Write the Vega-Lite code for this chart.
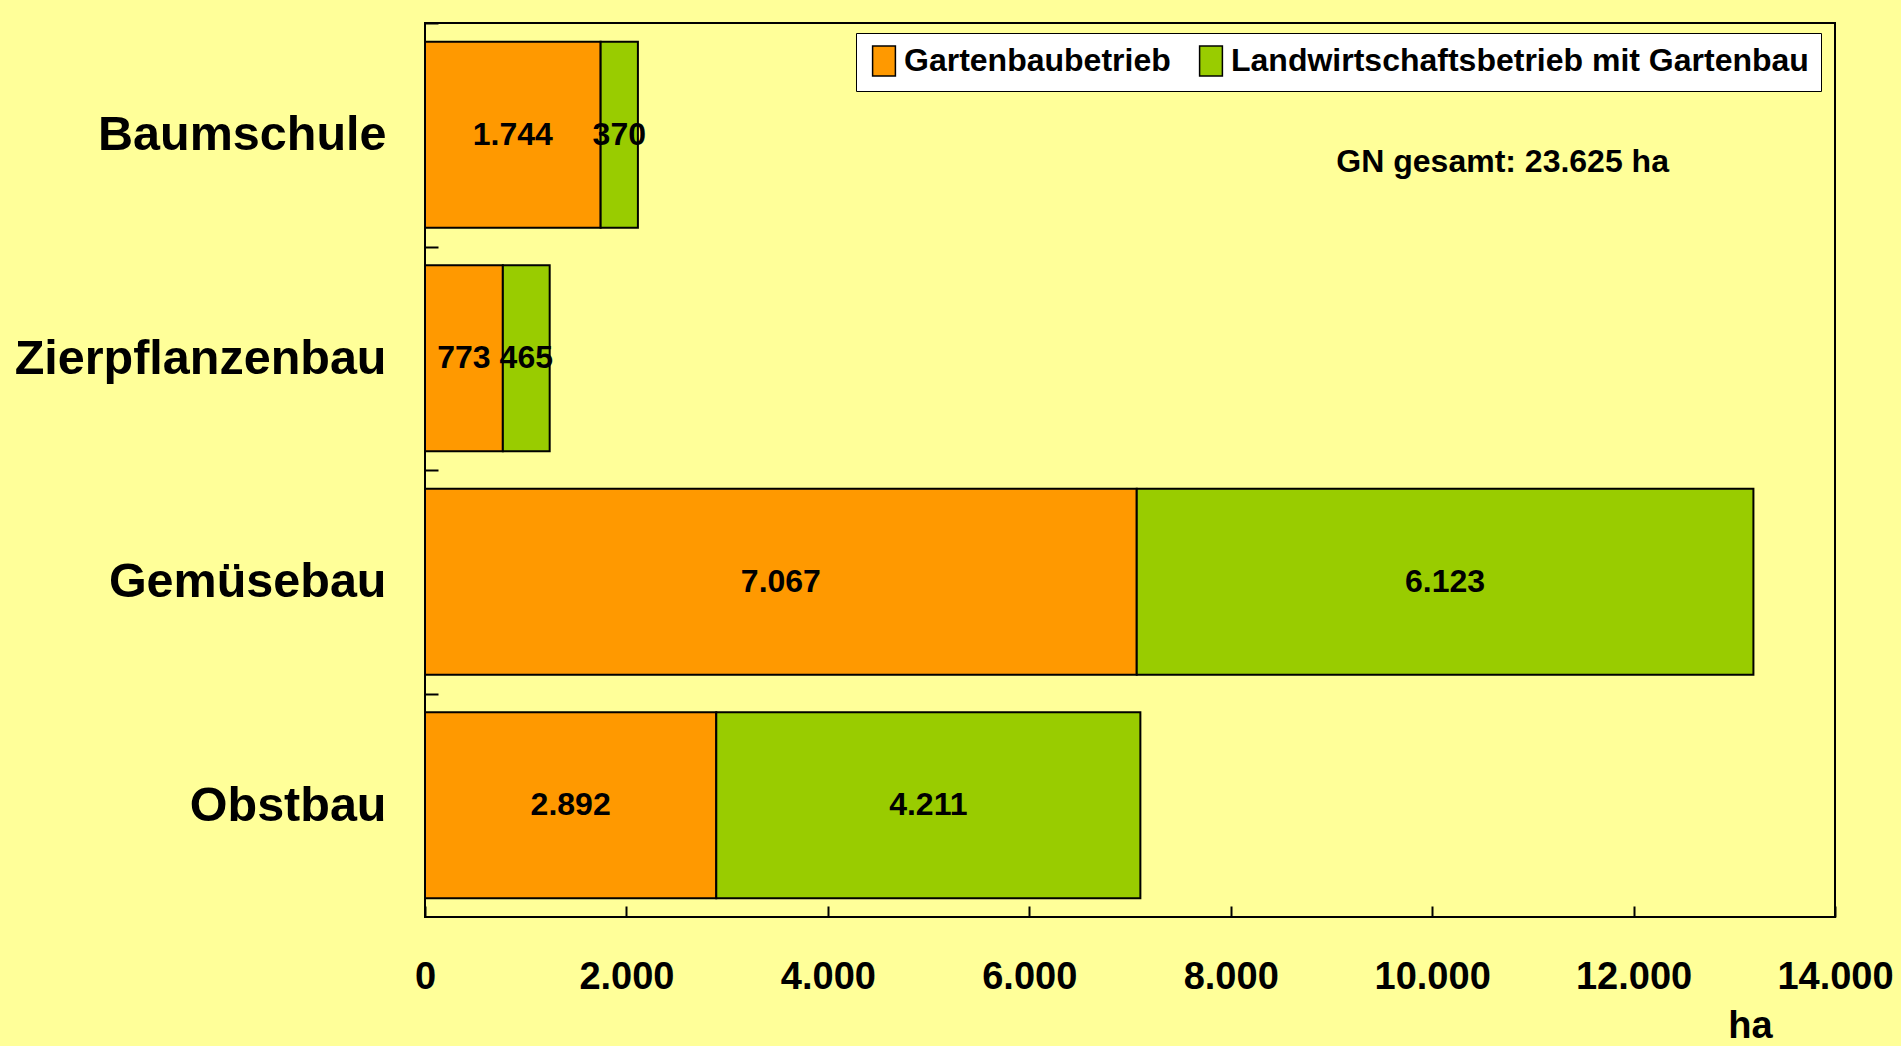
{
  "$schema": "https://vega.github.io/schema/vega-lite/v6.json",
  "width": 1410,
  "height": 894,
  "autosize": {"type": "none"},
  "padding": {"left": 425, "top": 23, "right": 66, "bottom": 129},
  "background": "#FFFF99",
  "config": {
    "locale": {"number": {"decimal": ",", "thousands": ".", "grouping": [3], "currency": ["", " €"]}},
    "view": {"stroke": "black", "strokeWidth": 2, "fill": "#FFFF99"},
    "font": "Liberation Sans"
  },
  "data": {
    "values": [
      {"kultur": "Baumschule", "betrieb": "Gartenbaubetrieb", "flaeche": 1744},
      {"kultur": "Baumschule", "betrieb": "Landwirtschaftsbetrieb mit Gartenbau", "flaeche": 370},
      {"kultur": "Zierpflanzenbau", "betrieb": "Gartenbaubetrieb", "flaeche": 773},
      {"kultur": "Zierpflanzenbau", "betrieb": "Landwirtschaftsbetrieb mit Gartenbau", "flaeche": 465},
      {"kultur": "Gemüsebau", "betrieb": "Gartenbaubetrieb", "flaeche": 7067},
      {"kultur": "Gemüsebau", "betrieb": "Landwirtschaftsbetrieb mit Gartenbau", "flaeche": 6123},
      {"kultur": "Obstbau", "betrieb": "Gartenbaubetrieb", "flaeche": 2892},
      {"kultur": "Obstbau", "betrieb": "Landwirtschaftsbetrieb mit Gartenbau", "flaeche": 4211}
    ]
  },
  "layer": [
    {
      "mark": {"type": "bar", "stroke": "black", "strokeWidth": 2},
      "encoding": {
        "y": {
          "field": "kultur", "type": "nominal",
          "sort": ["Baumschule", "Zierpflanzenbau", "Gemüsebau", "Obstbau"],
          "scale": {"paddingInner": 0.168, "paddingOuter": 0.084},
          "axis": {
            "title": null, "domain": false, "tickSize": -13, "tickOffset": -111.75, "labelOffset": 111.75,
            "tickColor": "black", "tickWidth": 2, "labelFontSize": 48.5, "labelFontWeight": "bold",
            "labelFont": "Liberation Sans", "labelColor": "black", "labelPadding": 52, "labelLimit": 500
          }
        },
        "x": {
          "field": "flaeche", "type": "quantitative", "stack": "zero",
          "scale": {"domain": [0, 14000], "nice": false},
          "axis": {
            "title": "ha", "values": [0, 2000, 4000, 6000, 8000, 10000, 12000, 14000],
            "format": ",d", "domain": false, "grid": false, "tickSize": -11, "tickWidth": 2,
            "tickColor": "black", "labelFontSize": 38, "labelFontWeight": "bold", "labelColor": "black",
            "labelFont": "Liberation Sans", "labelBaseline": "alphabetic", "labelPadding": 82, "labelFlush": false,
            "titleFontSize": 38, "titleFontWeight": "bold", "titleFont": "Liberation Sans", "titleColor": "black",
            "titleX": 1325, "titleY": 120, "titleAlign": "center", "titleBaseline": "alphabetic"
          }
        },
        "color": {
          "field": "betrieb", "type": "nominal",
          "scale": {"domain": ["Gartenbaubetrieb", "Landwirtschaftsbetrieb mit Gartenbau"], "range": ["#FF9900", "#99CC00"]},
          "legend": {
            "title": null, "orient": "none", "legendX": 431, "legendY": 10, "direction": "horizontal",
            "columns": 2, "fillColor": "white", "strokeColor": "black", "padding": 12,
            "columnPadding": 24, "labelOffset": 4, "symbolType": "M-0.76,-1H0.76V1H-0.76Z", "symbolSize": 900,
            "symbolStrokeColor": "black", "symbolStrokeWidth": 1.5, "labelFontSize": 32, "labelFontWeight": "bold",
            "labelFont": "Liberation Sans", "labelColor": "black", "labelLimit": 800
          }
        },
        "order": {"field": "betrieb", "sort": "ascending"}
      }
    },
    {
      "mark": {"type": "text", "fontSize": 32, "fontWeight": "bold", "font": "Liberation Sans", "color": "black"},
      "encoding": {
        "y": {"field": "kultur", "type": "nominal", "sort": ["Baumschule", "Zierpflanzenbau", "Gemüsebau", "Obstbau"]},
        "x": {"field": "flaeche", "type": "quantitative", "stack": "zero", "bandPosition": 0.5},
        "detail": {"field": "betrieb"},
        "order": {"field": "betrieb", "sort": "ascending"},
        "text": {"field": "flaeche", "type": "quantitative", "format": ",d"}
      }
    },
    {
      "data": {"values": [{"label": "GN gesamt: 23.625 ha"}]},
      "mark": {"type": "text", "fontSize": 32, "fontWeight": "bold", "font": "Liberation Sans", "color": "black", "dy": 27},
      "encoding": {
        "x": {"datum": 10700, "type": "quantitative"},
        "y": {"datum": "Baumschule", "type": "nominal"},
        "text": {"field": "label"}
      }
    }
  ]
}
